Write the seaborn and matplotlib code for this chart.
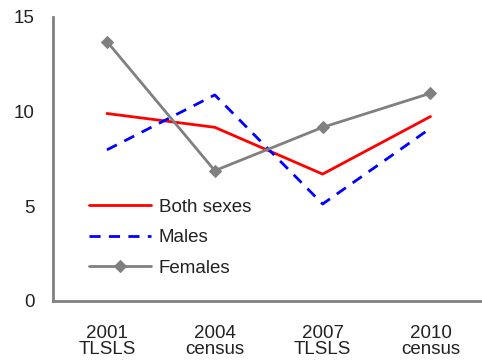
import matplotlib
matplotlib.use('Agg')
import matplotlib.pyplot as plt
import seaborn as sns
import pandas as pd
import numpy as np

# Данные
periods = ['2001\nTLSLS', '2004\ncensus', '2007\nTLSLS', '2010\ncensus']
both_sexes = [9.9, 9.17, 6.7, 9.74]
males = [7.98, 10.88, 5.12, 9.12]
females = [13.7, 6.88, 9.17, 10.97]

sns.set_style('white')
plt.rcParams['font.family'] = ['Liberation Sans', 'DejaVu Sans']
plt.rcParams['text.color'] = '#222222'

df = pd.DataFrame({
    'x': np.tile(np.arange(len(periods)), 3),
    'value': both_sexes + males + females,
    'series': ['Both sexes'] * 4 + ['Males'] * 4 + ['Females'] * 4,
})

fig = plt.figure(figsize=(4.82, 3.6), dpi=100)
ax = fig.add_axes([0.110, 0.164, 0.895, 0.789])

sns.lineplot(data=df[df.series == 'Both sexes'], x='x', y='value', ax=ax,
             color='#ff0000', linewidth=2, label='Both sexes')
sns.lineplot(data=df[df.series == 'Males'], x='x', y='value', ax=ax,
             color='#0000ff', linewidth=2, linestyle=(0, (4, 3)), label='Males')
sns.lineplot(data=df[df.series == 'Females'], x='x', y='value', ax=ax,
             color='#808080', linewidth=2, marker='D', markersize=6,
             markeredgecolor='#808080', label='Females')

ax.set_xlim(-0.5, 3.5)
ax.set_ylim(0, 15)
ax.set_yticks([0, 5, 10, 15])
ax.set_xticks(np.arange(-0.5, 3.5, 1.0))
ax.set_xticklabels([])
ax.set_xticks(np.arange(len(periods)), minor=True)
ax.set_xticklabels(periods, minor=True, fontsize=13.5, color='#222222', linespacing=0.95)
ax.tick_params(axis='x', which='minor', length=0, pad=17)
ax.tick_params(axis='x', which='major', direction='out', length=4, width=1.5, color='#808080')
ax.tick_params(axis='y', direction='out', length=5, width=1.5, color='#808080',
               labelsize=13.5, labelcolor='#222222', pad=8)
ax.set_xlabel('')
ax.set_ylabel('')

for s in ['top', 'right']:
    ax.spines[s].set_visible(False)
for s in ['left', 'bottom']:
    ax.spines[s].set_color('#808080')
    ax.spines[s].set_linewidth(2)

ax.legend(loc='upper left', bbox_to_anchor=(0.15, 0.495), bbox_transform=fig.transFigure,
          frameon=False, fontsize=13.5, handlelength=3.3, handletextpad=0.4,
          labelspacing=0.72)

fig.savefig('out.png', dpi=100)
